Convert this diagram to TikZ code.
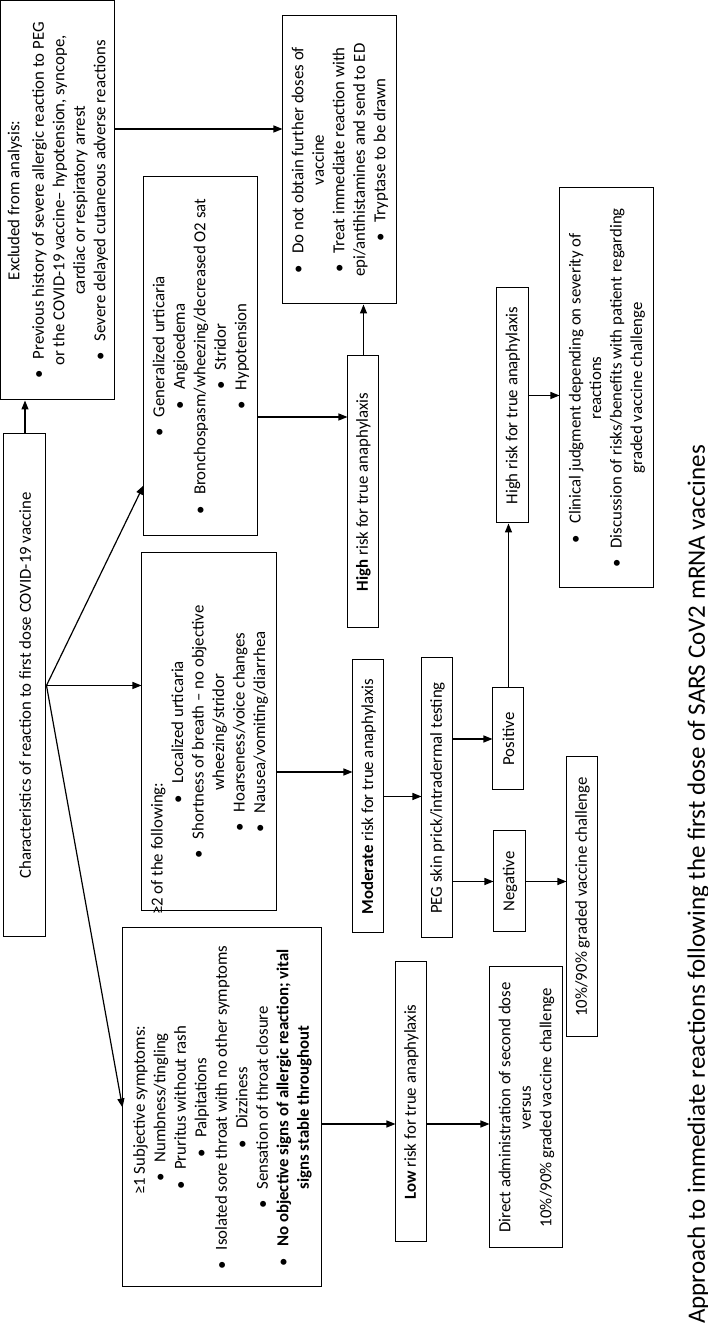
\documentclass[tikz,border=0pt]{standalone}
\usepackage{fontspec}
\setmainfont{Carlito}
\usetikzlibrary{arrows.meta}
\newcommand\blt{\textbullet\hspace{11pt}}

\begin{document}
\begin{tikzpicture}[x=1pt, y=1pt, rotate=90, transform shape,
		box/.style={draw, line width=1pt, align=center, inner sep=0pt, font=\fontsize{16.8}{20.5}\selectfont},
		arr/.style={line width=1.2pt, -{Triangle[length=9pt, width=7pt]}}]
\useasboundingbox (0,0) rectangle (1325,708);

\node[box, minimum width=503pt, minimum height=42pt] (char) at (639.5,683) {Characteristics of reaction to first dose COVID-19 vaccine};
\node[box, minimum width=399pt, minimum height=114pt] (excl) at (1124.5,650) {Excluded from analysis:\\[4pt]
	\blt Previous history of severe allergic reaction to PEG\\ or the COVID-19 vaccine– hypotension, syncope,\\ cardiac or respiratory arrest\\
	\blt Severe delayed cutaneous adverse reactions};
\node[box, minimum width=288pt, minimum height=114pt] (donot) at (1165,368) {\blt Do not obtain further doses of\\ vaccine\\
	\blt Treat immediate reaction with\\ epi/antihistamines and send to ED\\ \blt Tryptase to be drawn};

\node[box, minimum width=359pt, minimum height=114pt] (gen) at (968.5,507) {\blt Generalized urticaria\\ \blt Angioedema\\
	\blt Bronchospasm/wheezing/decreased O2 sat\\ \blt Stridor\\ \blt Hypotension};
\node[box, minimum width=358pt, minimum height=135pt] (modsym) at (593,498.5) {\makebox[358pt][l]{\hspace*{-4pt}≥2 of the following:}\\
	\blt Localized urticaria\\ \blt Shortness of breath – no objective\\ wheezing/stridor\\
	\blt Hoarseness/voice changes\\ \blt Nausea/vomiting/diarrhea};
\node[box, minimum width=359pt, minimum height=199pt] (lowsym) at (217.5,485.5) {\makebox[359pt][l]{\hspace*{92pt}≥1 Subjective symptoms:}\\
	\blt Numbness/tingling\\ \blt Pruritus without rash\\ \blt Palpitations\\ \blt Isolated sore throat with no other symptoms\\
	\blt Dizziness\\ \blt Sensation of throat closure\\ \blt \textbf{No objective signs of allergic reaction; vital}\\ \textbf{signs stable throughout}};

\node[box, minimum width=272pt, minimum height=31pt] (high) at (833,344.5) {\textbf{High} risk for true anaphylaxis};
\node[box, minimum width=273pt, minimum height=31pt] (mod) at (528.5,339.5) {\textbf{Moderate} risk for true anaphylaxis};
\node[box, minimum width=280pt, minimum height=31pt] (low) at (223,296.5) {\textbf{Low} risk for true anaphylaxis};
\node[box, minimum width=280pt, minimum height=31pt] (peg) at (527,270.5) {PEG skin prick/intradermal testing};
\node[box, minimum width=102pt, minimum height=31pt] (pos) at (586,199.5) {Positive};
\node[box, minimum width=101pt, minimum height=32pt] (neg) at (443.5,198) {Negative};
\node[box, minimum width=235pt, minimum height=32pt] (hr2) at (919.5,195) {High risk for true anaphylaxis};
\node[box, minimum width=280pt, minimum height=31pt] (chal) at (428,125.5) {10\%/90\% graded vaccine challenge};
\node[box, minimum width=281pt, minimum height=73pt] (direct) at (217.5,181.5) {Direct administration of second dose\\ versus\\ 10\%/90\% graded vaccine challenge};
\node[box, minimum width=400pt, minimum height=94pt] (clin) at (937,101) {\blt Clinical judgment depending on severity of\\ reactions\\
	\blt Discussion of risks/benefits with patient regarding\\ graded vaccine challenge};

\node[anchor=base west, inner sep=0pt, font=\fontsize{25}{30}\selectfont] (title) at (1,3) {Approach to immediate reactions following the first dose of SARS CoV2 mRNA vaccines};

\coordinate (ed) at ([xshift=71.5pt]excl.south);
\coordinate (gh) at ([xshift=75pt]high.north);
\coordinate (mm) at ([xshift=24.5pt]mod.north);
\coordinate (hc) at ([xshift=10pt]hr2.south);
\coordinate (ld) at ([xshift=-22pt]low.north);

\draw[arr] (char.east) -- (char.east -| excl.west);
\draw[arr] (ed) -- (ed |- donot.north);
\draw[arr] (char.south) -- ([xshift=51pt]gen.north west);
\draw[arr] (char.south) -- (char.south |- modsym.north);
\draw[arr] (char.south) -- (lowsym.north);
\draw[arr] (gh |- gen.south) -- (gh);
\draw[arr] (high.east) -- (high.east -| donot.west);
\draw[arr] (mm |- modsym.south) -- (mm);
\draw[arr] (mod.south) -- (mod.south |- peg.north);
\draw[arr] (pos.north |- peg.south) -- (pos.north);
\draw[arr] (neg.north |- peg.south) -- (neg.north);
\draw[arr] (neg.south) -- (neg.south |- chal.north);
\draw[arr] (pos.east) -- (pos.east -| hr2.west);
\draw[arr] (hc) -- (hc |- clin.north);
\draw[arr] (ld |- lowsym.south) -- (ld);
\draw[arr] (ld |- low.south) -- (ld |- direct.north);
\end{tikzpicture}
\end{document}
